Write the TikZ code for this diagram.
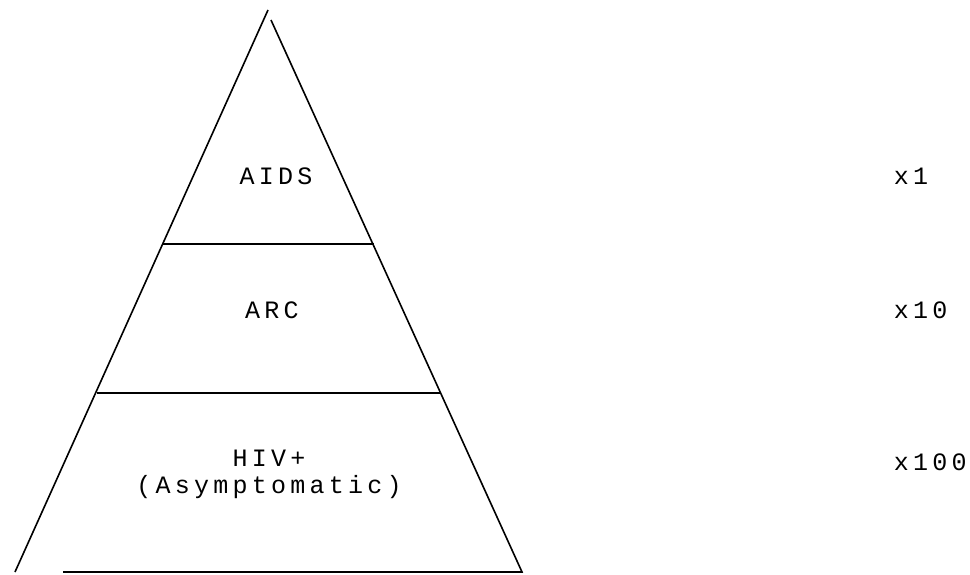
\documentclass[tikz,border=0pt]{standalone}
\usepackage{fontspec}
\setmonofont[LetterSpace=17]{Liberation Mono}
\usetikzlibrary{positioning}

\begin{document}
\begin{tikzpicture}[
    x = 1pt, y = -1pt, % pixel like units, y downwards
    line width = 1.6pt, % line style
    font = \ttfamily\fontsize{25}{27}\selectfont
    ]

    \tikzset{level/.style={align=center, inner sep=0pt},
    ratio/.style={anchor=west, inner sep=0pt}
    }

    \useasboundingbox (0,0) rectangle (970,575);

    % corners of the pyramid
    \coordinate (top) at (268,10);
    \coordinate (topr) at (271,20);
    \coordinate (bl) at (15,572);
    \coordinate (bstart) at (63,572);
    \coordinate (br) at (522,572);

    \draw (top) -- (bl);
    \draw (topr) -- (br) -- (bstart);
    \draw (163,244) -- (374,244);
    \draw (97,393) -- (441,393);

    \node[level] (aids) at (276,176) {AIDS};
    \node[level] (arc) at (272,310) {ARC};
    \node[level] (hiv) at (269,474) {HIV+\\(Asymptomatic)};

    \node[ratio] (r1) at (893,176) {x1};
    \node[ratio] (r10) at (893,310) {x10};
    \node[ratio] (r100) at (893,462) {x100};
\end{tikzpicture}
\end{document}
